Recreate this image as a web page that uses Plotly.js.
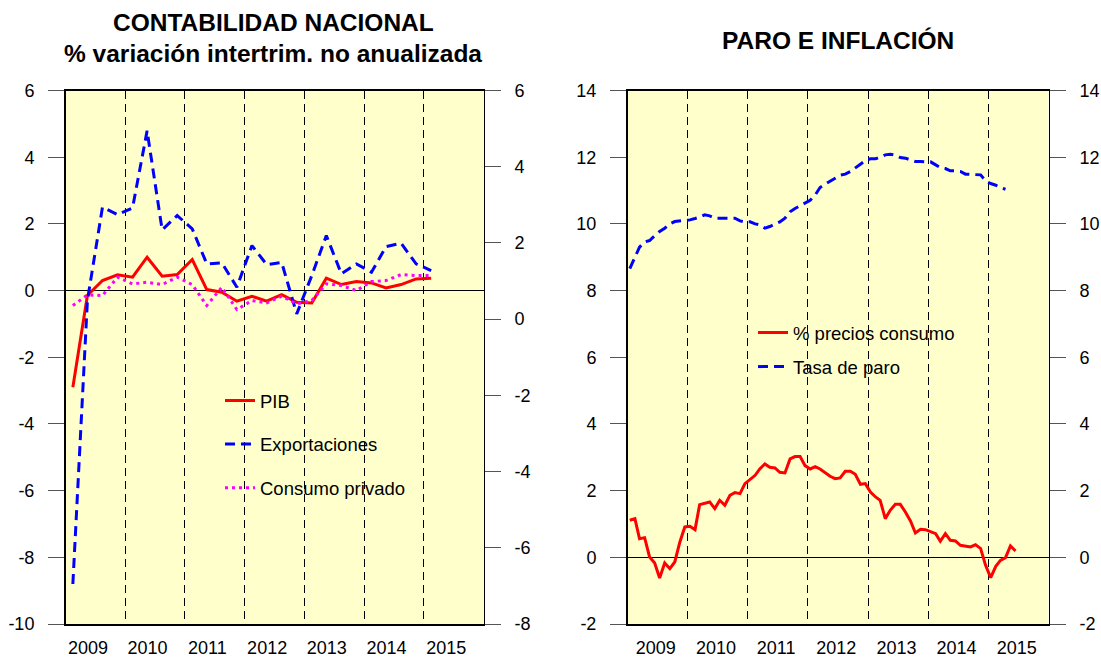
<!DOCTYPE html>
<html>
<head>
<meta charset="utf-8">
<script src="https://cdn.plot.ly/plotly-3.0.1.min.js"></script>
<style>
html,body{margin:0;padding:0;background:#fff;}
#chart{width:1101px;height:657px;}
</style>
</head>
<body>
<div id="chart"></div>
<script>
// ---------- DATA ----------
// Quarterly national accounts, % q/q change (2009Q1 - 2015Q1)
const quarterDates = [
  '2009-02-15','2009-05-15','2009-08-15','2009-11-15',
  '2010-02-15','2010-05-15','2010-08-15','2010-11-15',
  '2011-02-15','2011-05-15','2011-08-15','2011-11-15',
  '2012-02-15','2012-05-15','2012-08-15','2012-11-15',
  '2013-02-15','2013-05-15','2013-08-15','2013-11-15',
  '2014-02-15','2014-05-15','2014-08-15','2014-11-15',
  '2015-02-15'
];
const pib = [-2.9, -0.15, 0.3, 0.47, 0.4, 1.0, 0.43, 0.48, 0.93, 0.03, -0.05, -0.32, -0.17,
  -0.32, -0.12, -0.35, -0.37, 0.37, 0.18, 0.27, 0.23, 0.08, 0.18, 0.35, 0.37];
const exportaciones = [-8.8, -0.3, 2.5, 2.28, 2.48, 4.79, 1.82, 2.25, 1.85, 0.8, 0.83, 0.1, 1.35,
  0.78, 0.84, -0.7, 0.45, 1.65, 0.5, 0.8, 0.55, 1.32, 1.42, 0.8, 0.6];
const consumoPrivado = [-0.45, -0.13, -0.15, 0.4, 0.2, 0.25, 0.18, 0.4, 0.18, -0.45, 0.1, -0.57, -0.3,
  -0.37, -0.17, -0.4, -0.3, 0.2, 0.15, 0.0, 0.27, 0.3, 0.48, 0.45, 0.45];

// Monthly series, starting January 2009
const monthlyStartYear = 2009;
const preciosConsumo = [1.11, 1.16, 0.56, 0.59, 0.01, -0.17, -0.62, -0.17, -0.34, -0.14,
  0.46, 0.91, 0.93, 0.83, 1.58, 1.61, 1.66, 1.46, 1.71, 1.56,
  1.86, 1.94, 1.91, 2.21, 2.33, 2.46, 2.65, 2.80, 2.70, 2.68,
  2.55, 2.53, 2.95, 3.02, 3.02, 2.75, 2.65, 2.72, 2.65, 2.55,
  2.43, 2.36, 2.38, 2.58, 2.58, 2.49, 2.19, 2.21, 1.96, 1.81,
  1.71, 1.16, 1.41, 1.59, 1.59, 1.36, 1.09, 0.73, 0.84, 0.83,
  0.78, 0.71, 0.48, 0.71, 0.51, 0.49, 0.36, 0.34, 0.31, 0.38,
  0.26, -0.24, -0.61, -0.27, -0.09, -0.01, 0.34, 0.19];
const tasaParo = [8.66, 9.0, 9.3, 9.46, 9.5, 9.64, 9.77, 9.87, 10.0, 10.07,
  10.09, 10.09, 10.12, 10.16, 10.2, 10.27, 10.24, 10.17, 10.17, 10.17,
  10.17, 10.17, 10.09, 10.06, 10.06, 10.0, 9.97, 9.87, 9.92, 10.0,
  10.06, 10.17, 10.36, 10.46, 10.54, 10.64, 10.71, 10.87, 11.09, 11.19,
  11.27, 11.37, 11.46, 11.49, 11.57, 11.69, 11.79, 11.9, 11.95, 11.95,
  12.0, 12.07, 12.09, 12.06, 11.99, 11.97, 11.92, 11.87, 11.87, 11.87,
  11.86, 11.77, 11.69, 11.66, 11.59, 11.59, 11.57, 11.49, 11.49, 11.49,
  11.47, 11.29, 11.21, 11.16, 11.09, 11.04];

const yearLabels = ['2009','2010','2011','2012','2013','2014','2015'];
const yearStarts = ['2010-01-01','2011-01-01','2012-01-01','2013-01-01','2014-01-01','2015-01-01'];
const leftLabelPos = ['2009-05-18','2010-05-18','2011-05-18','2012-05-18','2013-05-18','2014-05-18','2015-05-18'];
const rightLabelPos = ['2009-06-22','2010-06-22','2011-06-22','2012-06-22','2013-06-22','2014-06-22','2015-06-22'];

// y-axis ticks (hyphen minus as in the original)
const yTicksLeftA = [-10, -8, -6, -4, -2, 0, 2, 4, 6];
const yTicksLeftB = [-8, -6, -4, -2, 0, 2, 4, 6];
const yTicksRight = [-2, 0, 2, 4, 6, 8, 10, 12, 14];

const titleLeft1 = 'CONTABILIDAD NACIONAL';
const titleLeft2 = '% variación intertrim. no anualizada';
const titleRight = 'PARO E INFLACIÓN';

// ---------- HELPERS ----------
function monthDates(n) {
  const out = [];
  for (let k = 0; k < n; k++) {
    const y = monthlyStartYear + Math.floor(k / 12);
    const m = (k % 12) + 1;
    out.push(y + '-' + (m < 10 ? '0' + m : m) + '-15');
  }
  return out;
}

const W = 1101, H = 657;
const px = v => v / W;
const py = v => 1 - v / H;

const FONT = 'Liberation Sans, Arial, sans-serif';
const tickFont = {family: FONT, size: 18, color: '#000'};
const legFont = {family: FONT, size: 18.5, color: '#000'};
const titleFont = {family: FONT, size: 24.5, color: '#000', weight: 'bold'};

function yAx(vals, extra) {
  return Object.assign({
    tickmode: 'array', tickvals: vals, ticktext: vals.map(v => String(v)),
    ticks: 'outside', ticklen: 16, tickwidth: 1, tickcolor: '#555',
    ticklabelstandoff: 10,
    showline: true, linecolor: '#000', linewidth: 1.5,
    showgrid: false, zeroline: false, fixedrange: true,
    tickfont: tickFont
  }, extra);
}
function xAx(extra, labelPos) {
  return Object.assign({
    type: 'date', range: ['2009-01-01', '2016-01-01'],
    tickmode: 'array', tickvals: labelPos, ticktext: yearLabels,
    ticks: '', showgrid: false, zeroline: false,
    showline: true, mirror: true, linecolor: '#000', linewidth: 1.5,
    ticklabelstandoff: 7,
    tickfont: tickFont, fixedrange: true,
    minor: {tickmode: 'array', tickvals: yearStarts, ticks: '', showgrid: true,
            gridcolor: '#000', gridwidth: 1, griddash: '8px,5px'}
  }, extra);
}

const qd = quarterDates;
const md1 = monthDates(preciosConsumo.length);
const md2 = monthDates(tasaParo.length);

const traces = [
  {x: qd, y: pib, name: 'PIB', type: 'scatter', mode: 'lines', xaxis: 'x', yaxis: 'y',
   line: {color: '#FF0000', width: 3}, legend: 'legend', legendgroup: 'a'},
  {x: qd, y: exportaciones, name: 'Exportaciones', type: 'scatter', mode: 'lines', xaxis: 'x', yaxis: 'y',
   line: {color: '#0000FF', width: 3, dash: '10px,6px'}, legend: 'legend', legendgroup: 'b'},
  {x: qd, y: consumoPrivado, name: 'Consumo privado', type: 'scatter', mode: 'lines', xaxis: 'x', yaxis: 'y',
   line: {color: '#FF00FF', width: 3, dash: '3px,4px'}, legend: 'legend', legendgroup: 'c'},
  // carrier (no visible marks) so the secondary right-hand scale is drawn
  {x: qd, y: qd.map(() => null), type: 'scatter', mode: 'lines', xaxis: 'x', yaxis: 'y3',
   showlegend: false, hoverinfo: 'skip'},
  {x: md1, y: preciosConsumo, name: '% precios consumo', type: 'scatter', mode: 'lines', xaxis: 'x2', yaxis: 'y2',
   line: {color: '#FF0000', width: 3}, legend: 'legend2', legendgroup: 'd'},
  {x: md2, y: tasaParo, name: 'Tasa de paro', type: 'scatter', mode: 'lines', xaxis: 'x2', yaxis: 'y2',
   line: {color: '#0000FF', width: 3, dash: '10px,6px'}, legend: 'legend2', legendgroup: 'e'},
  {x: md2, y: md2.map(() => null), type: 'scatter', mode: 'lines', xaxis: 'x2', yaxis: 'y4',
   showlegend: false, hoverinfo: 'skip'}
];

const yDom = [py(624), py(90.5)];

const layout = {
  width: W, height: H,
  margin: {l: 0, r: 0, t: 0, b: 0, pad: 0},
  paper_bgcolor: '#FFFFFF',
  plot_bgcolor: '#FFFFCC',
  font: {family: FONT, size: 18, color: '#000'},
  xaxis: xAx({domain: [px(65.5), px(483.5)], anchor: 'y'}, leftLabelPos),
  yaxis: yAx(yTicksLeftA, {domain: yDom, anchor: 'x', range: [-10, 6],
              zeroline: true, zerolinecolor: '#000', zerolinewidth: 1}),
  yaxis3: yAx(yTicksLeftB, {overlaying: 'y', side: 'right', anchor: 'x', range: [-8, 6]}),
  xaxis2: xAx({domain: [px(627.5), px(1048.5)], anchor: 'y2'}, rightLabelPos),
  yaxis2: yAx(yTicksRight, {domain: yDom, anchor: 'x2', range: [-2, 14],
               zeroline: true, zerolinecolor: '#000', zerolinewidth: 1}),
  yaxis4: yAx(yTicksRight, {overlaying: 'y2', side: 'right', anchor: 'x2', range: [-2, 14]}),
  showlegend: true,
  legend: {x: px(220), y: py(382), xanchor: 'left', yanchor: 'top',
           bgcolor: 'rgba(0,0,0,0)', borderwidth: 0, tracegroupgap: 16.5,
           font: legFont, itemwidth: 30},
  legend2: {x: px(753), y: py(314), xanchor: 'left', yanchor: 'top',
            bgcolor: 'rgba(0,0,0,0)', borderwidth: 0, tracegroupgap: 7,
            font: legFont, itemwidth: 30},
  annotations: [
    {text: titleLeft1, xref: 'paper', yref: 'paper', x: px(273), y: py(22), xanchor: 'center', yanchor: 'middle',
     showarrow: false, font: titleFont},
    {text: titleLeft2, xref: 'paper', yref: 'paper', x: px(273), y: py(53), xanchor: 'center', yanchor: 'middle',
     showarrow: false, font: titleFont},
    {text: titleRight, xref: 'paper', yref: 'paper', x: px(838), y: py(40), xanchor: 'center', yanchor: 'middle',
     showarrow: false, font: titleFont}
  ]
};

Plotly.newPlot('chart', traces, layout, {displayModeBar: false, staticPlot: true});
</script>
</body>
</html>
